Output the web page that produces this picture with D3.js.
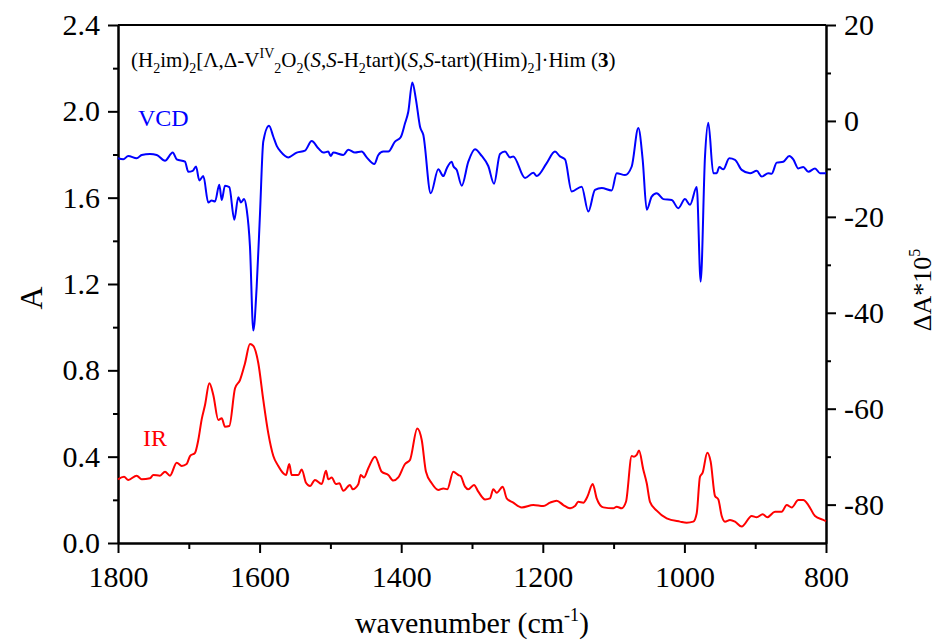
<!DOCTYPE html>
<html>
<head>
<meta charset="utf-8">
<script src="https://cdn.jsdelivr.net/npm/d3@7/dist/d3.min.js"></script>
<style>
body { margin: 0; background: #fff; }
text { font-family: "Liberation Serif", "Times New Roman", serif; }
</style>
</head>
<body>
<svg width="938" height="642"></svg>
<script>
// VCD trace (right axis, dA*10^5)
var vcdWn = [1800,1792.5,1785.5,1773.6,1766.5,1754.8,1745.3,1733.6,1722.7,1717.1,1705.4,1700.7,1694.5,1689.8,1685.2,1679.5,1672.5,1667.7,1663,1656.9,1653.5,1648.9,1642.8,1635.7,1630.1,1626.3,1622,1618.2,1613.6,1608.9,1604.1,1599.4,1594.8,1586.7,1580.6,1575.8,1570.2,1559.5,1547.6,1535.9,1526.4,1517.1,1510,1503,1499.6,1495.9,1481.8,1474.7,1465.3,1455.8,1448.7,1438,1432.3,1425.3,1418.2,1408.8,1400.7,1394.6,1390,1384.3,1379.1,1373.4,1368.8,1358.3,1347.6,1340.5,1335.7,1328.7,1326.4,1321.6,1314.5,1305.2,1295.8,1286.3,1277,1268.9,1260.5,1253.4,1246.3,1241.7,1225.1,1213.4,1208.6,1194.5,1182.8,1175.7,1168.6,1159.2,1145.1,1135.7,1126.3,1116.8,1102.7,1095.6,1083.9,1074.4,1065.1,1058.9,1053.2,1046.2,1039.1,1029.8,1017.9,1008.6,999.2,992.1,982.6,977,970.9,966.2,959.2,954.4,950.7,945.1,936.6,928.5,919.1,907.3,897.9,890.8,881.5,876.7,869.6,860.3,851.8,846.2,839.1,832.1,825,815.5,808.5,801.4,800];
var vcdVal = [-7.8,-8.0,-7.3,-7.8,-7.1,-6.9,-7.1,-8.3,-6.6,-8.0,-8.5,-10.6,-10.4,-9.5,-12.4,-11.5,-17.0,-16.6,-16.8,-13.3,-16.5,-13.5,-13.8,-20.6,-15.9,-17.0,-16.3,-18.5,-26.2,-43.7,-34.5,-19.2,-4.3,-1.0,-3.3,-5.2,-6.4,-7.6,-6.6,-6.2,-4.2,-5.7,-6.6,-6.4,-7.3,-6.6,-7.1,-6.0,-6.6,-6.4,-7.6,-9.0,-7.1,-6.4,-6.4,-4.3,-3.4,-0.5,1.9,8.0,4.4,-1.2,-2.9,-15.1,-10.1,-11.5,-9.9,-8.5,-9.4,-10.2,-13.5,-8.5,-5.9,-7.3,-9.4,-13.1,-6.9,-6.4,-7.6,-7.4,-11.9,-10.8,-11.5,-8.8,-6.4,-7.4,-8.0,-14.7,-13.7,-18.9,-14.4,-14.0,-14.5,-10.9,-11.3,-9.5,-1.5,-8.1,-18.5,-15.8,-15.1,-16.3,-16.5,-18.2,-16.3,-17.5,-13.8,-33.5,-7.4,-0.4,-10.9,-10.9,-9.6,-10.1,-7.8,-8.1,-10.2,-10.9,-10.4,-11.6,-10.9,-11.0,-8.7,-8.5,-7.3,-8.0,-9.9,-9.6,-10.6,-9.9,-10.9,-10.9,-10.9];

// IR trace (left axis, absorbance)
var irWn = [1800,1791.5,1785.5,1773.6,1766.5,1754.8,1750.1,1740.7,1733.6,1726.6,1717.1,1710,1703,1698.3,1691.2,1686.6,1681.8,1677.1,1671,1665.4,1658.3,1653.5,1648.9,1642.8,1634.7,1627.7,1620.6,1613.6,1608.9,1601.8,1594.8,1587.7,1580.6,1573.6,1566.5,1562.7,1558.1,1554.7,1545.3,1540.5,1534.5,1528.8,1521.8,1512.3,1506.2,1503,1498.2,1492.1,1487.4,1481.8,1472.3,1468.5,1460.6,1457.2,1452.5,1446.5,1437,1427.5,1418.2,1411.2,1404.1,1394.6,1387.6,1377.3,1371,1365,1356.9,1347.6,1340.5,1334.9,1326.4,1319.4,1316,1309.9,1305.2,1297.2,1291.1,1281.6,1274.6,1269.9,1265.1,1256.6,1251,1241.7,1229.8,1213.4,1199.3,1189.8,1180.4,1171,1161.6,1154.5,1149.9,1142.8,1137.1,1129.5,1123.9,1114.5,1100.4,1095.6,1088.6,1082.5,1074.4,1071.2,1067.4,1064.1,1058.1,1053.2,1048.6,1039.1,1025,1006.2,996.8,987.4,982.6,978,974.2,967.7,962.9,956.8,952.1,947.3,942.7,935.6,928.5,919.1,904.9,897.9,889.4,882.9,872,862.6,855.5,848.4,839.1,832.1,825,815.5,801.4,800];
var irVal = [0.295,0.307,0.292,0.312,0.295,0.300,0.315,0.312,0.330,0.312,0.372,0.357,0.366,0.403,0.418,0.477,0.573,0.639,0.740,0.686,0.570,0.578,0.539,0.542,0.717,0.755,0.833,0.922,0.913,0.833,0.663,0.508,0.403,0.357,0.323,0.315,0.366,0.315,0.315,0.341,0.279,0.264,0.292,0.273,0.335,0.295,0.303,0.273,0.277,0.242,0.269,0.249,0.272,0.315,0.304,0.346,0.400,0.330,0.315,0.289,0.304,0.366,0.385,0.531,0.477,0.330,0.277,0.246,0.253,0.249,0.330,0.315,0.310,0.261,0.249,0.269,0.238,0.202,0.207,0.249,0.233,0.261,0.207,0.187,0.165,0.176,0.171,0.187,0.196,0.176,0.161,0.171,0.191,0.187,0.214,0.273,0.207,0.165,0.161,0.168,0.161,0.191,0.403,0.400,0.408,0.428,0.341,0.277,0.191,0.150,0.114,0.099,0.094,0.099,0.138,0.307,0.326,0.418,0.377,0.218,0.202,0.125,0.099,0.107,0.099,0.076,0.125,0.119,0.133,0.119,0.145,0.145,0.176,0.165,0.199,0.199,0.176,0.125,0.103,0.100];

var xMajor = [1800,1600,1400,1200,1000,800];
var xMinor = [1700,1500,1300,1100,900];
var leftMajor = [0,0.4,0.8,1.2,1.6,2.0,2.4];
var leftMinor = [0.2,0.6,1.0,1.4,1.8,2.2];
var rightMajor = [20,0,-20,-40,-60,-80];
var rightMinor = [10,-10,-30,-50,-70];

var svg = d3.select("svg");
// plot box (named so they don't clash with window.top)
var plotL = 118, plotR = 826, plotT = 25, plotB = 543;

var x = d3.scaleLinear().domain([1800, 800]).range([plotL, plotR]);
var yL = d3.scaleLinear().domain([0, 2.4]).range([plotB, plotT]);
var yR = d3.scaleLinear().domain([-88, 20]).range([plotB, plotT]);

function styleAxis(g)
{
	g.attr("font-family", "Liberation Serif, serif");
	g.selectAll("path").attr("stroke", "#000").attr("stroke-width", 2);
	g.selectAll("line").attr("stroke", "#000").attr("stroke-width", 2);
	g.selectAll("text").style("font-family", "'Liberation Serif', serif").attr("font-size", 30).attr("fill", "#000");
}

// minor ticks first, then major ticks with labels
svg.append("g").attr("transform", "translate(0," + plotB + ")")
	.call(d3.axisBottom(x).tickValues(xMinor).tickSize(6).tickFormat("").tickSizeOuter(0))
	.call(styleAxis);
svg.append("g").attr("transform", "translate(0," + plotB + ")")
	.call(d3.axisBottom(x).tickValues(xMajor).tickSize(10).tickPadding(13).tickSizeOuter(0).tickFormat(function(d) { return String(d); }))
	.call(styleAxis);

svg.append("g").attr("transform", "translate(" + plotL + ",0)")
	.call(d3.axisLeft(yL).tickValues(leftMinor).tickSize(5).tickFormat("").tickSizeOuter(0))
	.call(styleAxis);
svg.append("g").attr("transform", "translate(" + plotL + ",0)")
	.call(d3.axisLeft(yL).tickValues(leftMajor).tickSize(10).tickPadding(8).tickSizeOuter(0).tickFormat(d3.format(".1f")))
	.call(styleAxis);

svg.append("g").attr("transform", "translate(" + plotR + ",0)")
	.call(d3.axisRight(yR).tickValues(rightMinor).tickSize(5).tickFormat("").tickSizeOuter(0))
	.call(styleAxis);
svg.append("g").attr("transform", "translate(" + plotR + ",0)")
	.call(d3.axisRight(yR).tickValues(rightMajor).tickSize(10).tickPadding(8).tickSizeOuter(0).tickFormat(function(d) { return String(d); }))
	.call(styleAxis);

// top frame line
svg.append("line").attr("x1", plotL).attr("x2", plotR).attr("y1", plotT).attr("y2", plotT)
	.attr("stroke", "#000").attr("stroke-width", 2);

// curves
var vcdLine = d3.line()
	.x(function(d, i) { return x(vcdWn[i]); })
	.y(function(d) { return yR(d); })
	.curve(d3.curveMonotoneX);
var irLine = d3.line()
	.x(function(d, i) { return x(irWn[i]); })
	.y(function(d) { return yL(d); })
	.curve(d3.curveMonotoneX);

svg.append("path").attr("d", irLine(irVal)).attr("fill", "none").attr("stroke", "#ff0000").attr("stroke-width", 2);
svg.append("path").attr("d", vcdLine(vcdVal)).attr("fill", "none").attr("stroke", "#0000ff").attr("stroke-width", 2);

// labels
svg.append("text").attr("x", 138).attr("y", 126).attr("font-size", 24).attr("fill", "#0000ff").text("VCD");
svg.append("text").attr("x", 143).attr("y", 446).attr("font-size", 24).attr("fill", "#ff0000").text("IR");

svg.append("text").attr("transform", "translate(42,298) rotate(-90)")
	.attr("text-anchor", "middle").attr("font-size", 32).text("A");

svg.append("text").attr("x", 472).attr("y", 633).attr("text-anchor", "middle").attr("font-size", 30)
	.call(function(t) {
		t.append("tspan").text("wavenumber (cm");
		t.append("tspan").attr("font-size", 18).attr("dy", -12).text("-1");
		t.append("tspan").attr("dy", 12).text(")");
	});

svg.append("text").attr("transform", "translate(931,290) rotate(-90)")
	.attr("text-anchor", "middle").attr("font-size", 26)
	.call(function(t) {
		t.append("tspan").text("\u0394A*10");
		t.append("tspan").attr("font-size", 16).attr("dy", -11).text("5");
	});

// compound formula: 0 plain, 1 subscript, -1 superscript, 2 italic, 3 bold
var parts = [
	["(H", 0], ["2", 1], ["im)", 0], ["2", 1], ["[\u039b,\u0394-V", 0], ["IV", -1], ["2", 1], ["O", 0], ["2", 1],
	["(", 0], ["S", 2], [",", 0], ["S", 2], ["-H", 0], ["2", 1], ["tart)(", 0], ["S", 2], [",", 0], ["S", 2],
	["-tart)(Him)", 0], ["2", 1], ["]\u00b7Him (", 0], ["3", 3], [")", 0]
];
var title = svg.append("text").attr("x", 131).attr("y", 67).attr("font-size", 21).attr("fill", "#000");
var shift = 0;
parts.forEach(function(p) {
	var s = p[1] === 1 ? 6 : (p[1] === -1 ? -9 : 0);
	var ts = title.append("tspan").attr("dy", s - shift).text(p[0]);
	if (p[1] === 1 || p[1] === -1) ts.attr("font-size", 14);
	if (p[1] === 2) ts.attr("font-style", "italic");
	if (p[1] === 3) ts.attr("font-weight", "bold");
	shift = s;
});
</script>
</body>
</html>
